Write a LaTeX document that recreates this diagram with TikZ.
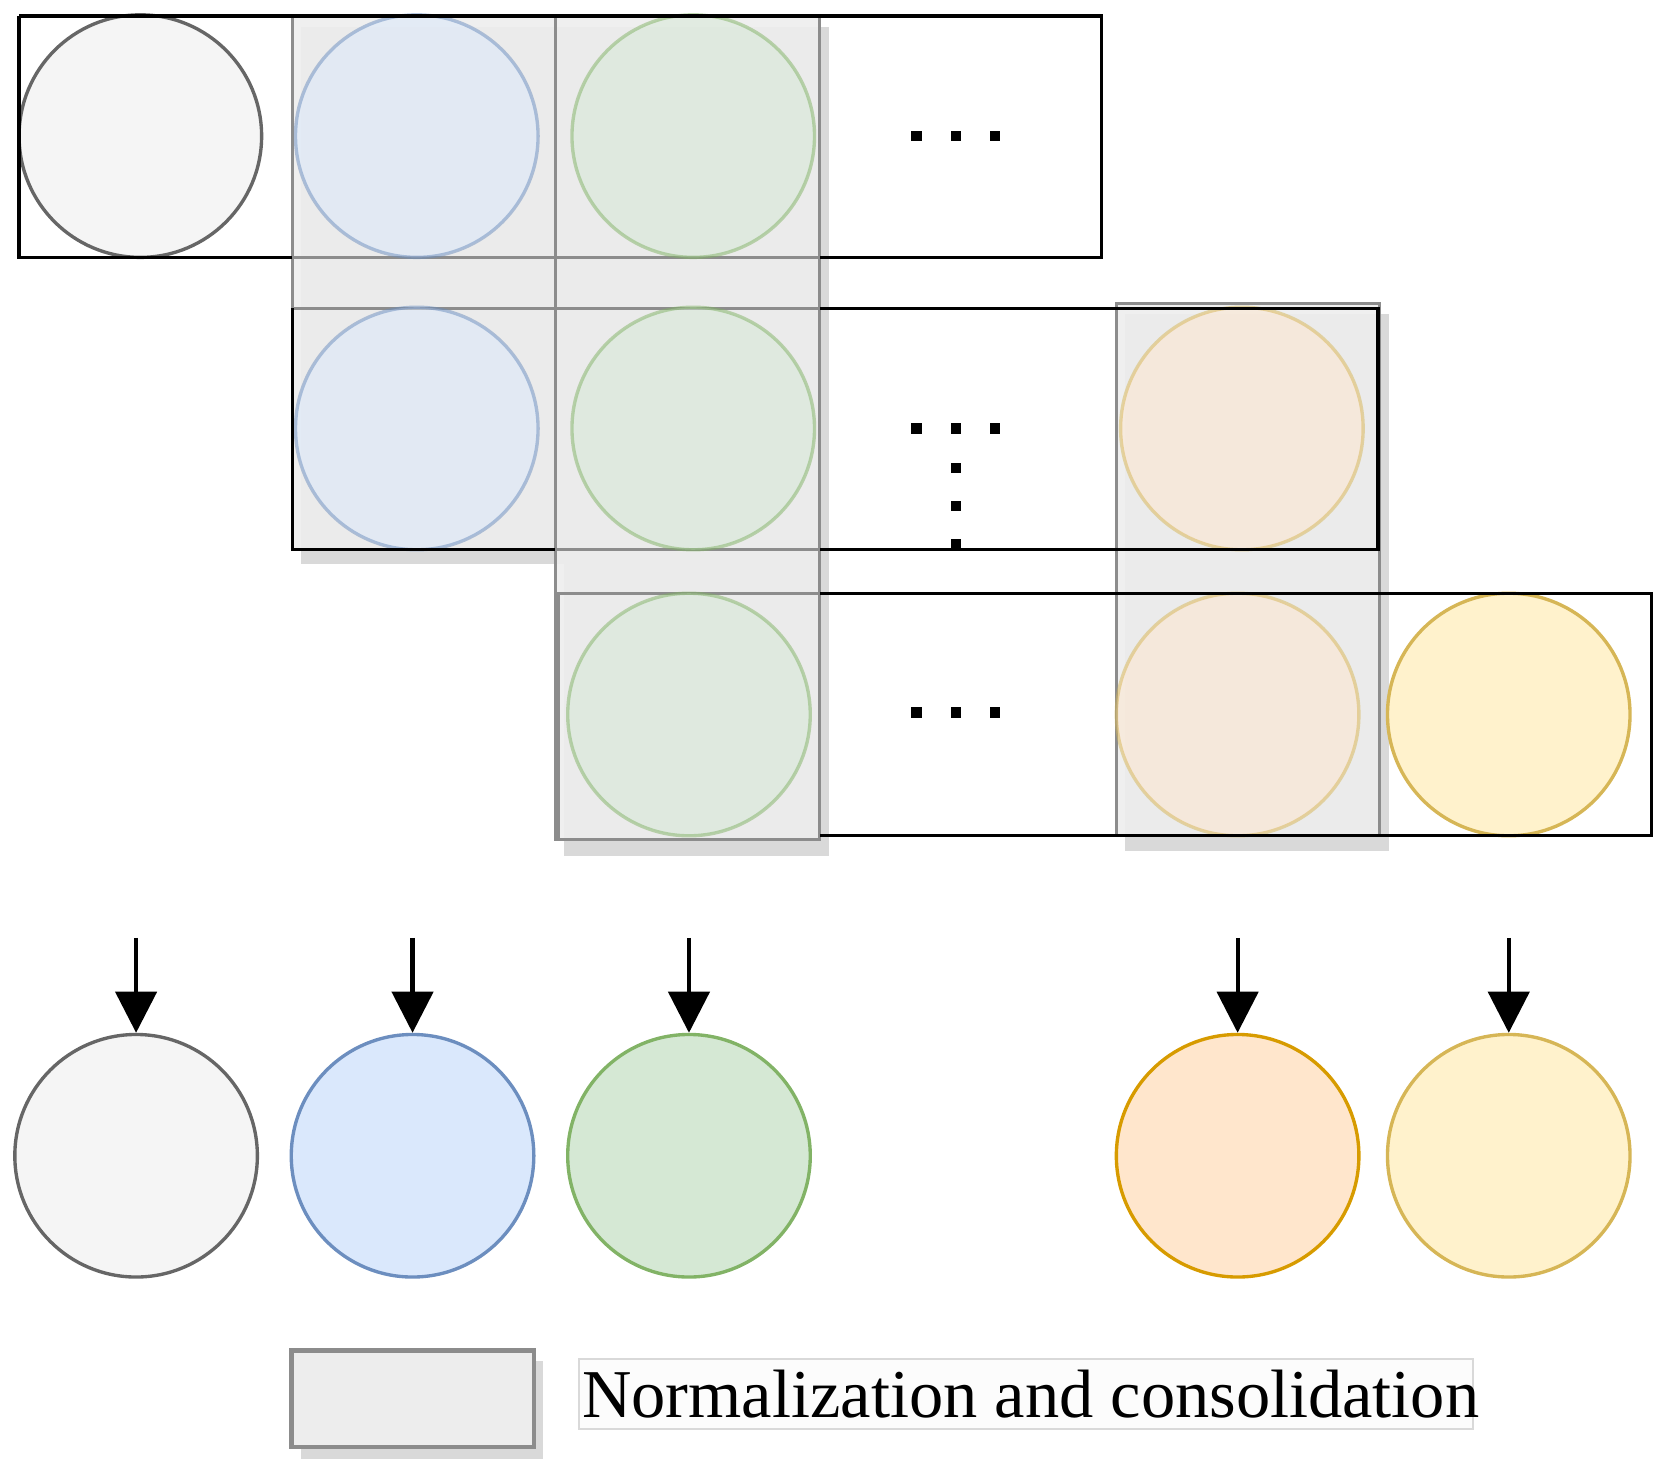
\documentclass[tikz,border=0pt]{standalone}
\usepackage{fontspec}
\setmainfont{Liberation Serif}
\usetikzlibrary{arrows.meta}
\definecolor{gF}{HTML}{F5F5F5}\definecolor{gD}{HTML}{666666}
\definecolor{bF}{HTML}{DAE8FC}\definecolor{bD}{HTML}{6C8EBF}
\definecolor{grF}{HTML}{D5E8D4}\definecolor{grD}{HTML}{82B366}
\definecolor{oF}{HTML}{FFE6CC}\definecolor{oD}{HTML}{D79B00}
\definecolor{yF}{HTML}{FFF2CC}\definecolor{yD}{HTML}{D6B656}
\begin{document}
\begin{tikzpicture}[x=0.01cm,y=-0.01cm,
  row/.style={draw=black,line width=0.9pt},
  cons/.style={draw=gray!90,fill=gray!14,line width=0.8pt,fill opacity=0.9},
  gl/.style={draw=gray!90,line width=0.8pt},
  shad/.style={fill=gray!30,draw=none},
  cc/.style={circle,line width=0.9pt,inner sep=0pt,minimum size=2.28cm},
  grayc/.style={cc,draw=gD,fill=gF},
  bluec/.style={cc,draw=bD,fill=bF},
  greenc/.style={cc,draw=grD,fill=grF},
  orangec/.style={cc,draw=oD,fill=oF},
  yellowc/.style={cc,draw=yD,fill=yF},
  tr/.style={opacity=0.5},
  arr/.style={-{Triangle[length=11pt,width=11pt]},line width=1.1pt},
  dot/.style={fill=black,minimum size=2.8pt,inner sep=0pt}]
\useasboundingbox (0,0) rectangle (1565,1385);
% shadows
\fill[shad] (283,25) rectangle (530,530);
\fill[shad] (530,25) rectangle (780,805);
\fill[shad] (1058,295) rectangle (1306,800);
% consolidation columns
\draw[cons] (275,15) rectangle (522,517);
\draw[cons] (522,15) rectangle (771,790);
\draw[cons] (1050,285) rectangle (1297,786);
\draw[gl] (525,558) rectangle (771,790);
\draw[gl] (275,242) -- (771,242);
\draw[gl] (275,290) -- (771,290);
\draw[gl] (522,517) -- (771,517);
\draw[gl] (1050,517) -- (1297,517);
\draw[gl] (1050,558) -- (1297,558);
% circles row 1
\node[grayc] (a1) at (132,128) {};
\node[bluec,tr] (b1) at (392,128) {};
\node[greenc,tr] (g1) at (652,128) {};
% row 2
\node[bluec,tr] (b2) at (392,403) {};
\node[greenc,tr] (g2) at (652,403) {};
\node[orangec,draw=yD,tr] (o2) at (1168,403) {};
% row 3
\node[greenc,tr] (g3) at (648,672) {};
\node[orangec,draw=yD,tr] (o3) at (1164,672) {};
\node[yellowc] (y3) at (1419,672) {};
% row boxes
\draw[row] (18,15) -- (1036,15) -- (1036,242) -- (771,242);
\draw[row] (275,242) -- (18,242) -- (18,15);
\draw[row] (771,290) -- (1296,290) -- (1296,517) -- (771,517);
\draw[row] (275,290) -- (275,517) -- (522,517);
\draw[row] (771,558) -- (1553,558) -- (1553,786) -- (771,786);
% dots
\foreach \x in {862,899,936}{
  \node[dot] at (\x,128) {};
  \node[dot] at (\x,403) {};
  \node[dot] at (\x,670) {};}
\foreach \y in {440,476,512}{ \node[dot] at (899,\y) {}; }
% bottom circles
\node[grayc] (A) at (128,1087) {};
\node[bluec] (B) at (388,1087) {};
\node[greenc] (G) at (648,1087) {};
\node[orangec] (O) at (1164,1087) {};
\node[yellowc] (Y) at (1419,1087) {};
\foreach \n/\x in {A/128,B/388,G/648,O/1164,Y/1419}{
  \coordinate (s\n) at (\x,882);
  \draw[arr] (s\n) -- (\n.north);}
% legend
\fill[shad] (283,1280) rectangle (511,1372);
\draw[cons,fill opacity=1,line width=1.2pt] (274,1270) rectangle (502,1361);
\node[draw=black!15,fill=black!1,inner sep=0pt,minimum width=8.4cm,minimum height=0.66cm] (Lb) at (965,1311) {};
\node[anchor=west,inner sep=0pt,font=\fontsize{18.3}{20}\selectfont] (L) at (547,1311) {Normalization and consolidation};
\end{tikzpicture}
\end{document}
